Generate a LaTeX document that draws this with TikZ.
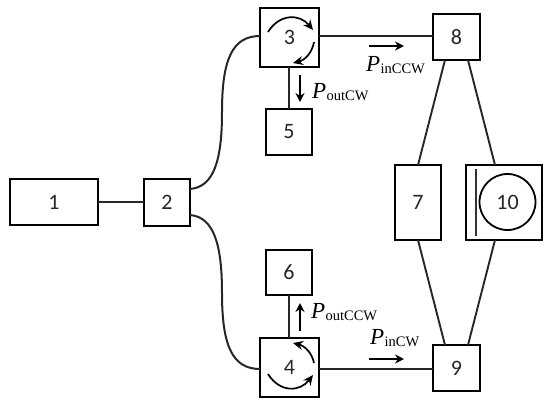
\documentclass[tikz,border=0pt]{standalone}
\usepackage{fontspec}
\setmainfont{Carlito}
\newfontfamily\timesit[Scale=1]{Liberation Serif}
\usetikzlibrary{arrows.meta,calc}
\tikzset{
  box/.style={draw=black,line width=2.2pt,fill=white,inner sep=0pt,outer sep=0pt,font=\fontsize{22}{22}\selectfont,text=black!85},
  wire/.style={line width=2.2pt,draw=black!85},
  swirl/.style={line width=1.7pt,-{Stealth[length=10pt,width=9pt]}},
  flow/.style={line width=1.8pt,-{Stealth[length=9pt,width=9pt]}},
  plabel/.style={inner sep=0pt,outer sep=0pt,anchor=base west}
}
\newcommand{\powlab}[1]{{\timesit\fontsize{23}{23}\selectfont\itshape P\kern0.5pt\raisebox{-2.5pt}{\fontsize{14.5}{14.5}\selectfont\upshape #1}}}
\begin{document}
\begin{tikzpicture}[x=1pt,y=-1pt]
\useasboundingbox (0,0) rectangle (550,408);
\node[box,minimum width=88pt,minimum height=46pt] (n1) at (54,202) {1};
\node[box,minimum width=46pt,minimum height=47pt] (n2) at (167,202.5) {2};
\node[box,minimum width=59pt,minimum height=59pt] (n3) at (289.5,37.5) {3};
\node[box,minimum width=46pt,minimum height=46pt] (n5) at (289,132) {5};
\node[box,minimum width=47pt,minimum height=46pt] (n8) at (456.5,37) {8};
\node[box,minimum width=46pt,minimum height=75pt] (n7) at (418,202.5) {7};
\node[box,minimum width=76pt,minimum height=75pt] (nt) at (504,202.5) {};
\node[draw=black,line width=1.8pt,circle,minimum size=56pt,inner sep=0pt,outer sep=0pt,font=\fontsize{22}{22}\selectfont,text=black!85] (n10) at (507.5,202) {10};
\node[box,minimum width=46pt,minimum height=45pt] (n6) at (289,272.5) {6};
\node[box,minimum width=59pt,minimum height=59pt] (n4) at (289.5,367.5) {4};
\node[box,minimum width=47pt,minimum height=46pt] (n9) at (456.5,368) {9};

\draw[wire] (n1.east) -- (n2.west |- n1.east);
\draw[wire] (n3.south -| n5) -- (n5);
\draw[wire] (n6) -- (n4.north -| n6);
\draw[wire] (n3.east |- 0,36) -- (n8.west |- 0,36);
\draw[wire] (n4.east |- 0,369) -- (n9.west |- 0,369);
\draw[wire,line width=2pt] ([yshift=13.5]n2.east) .. controls (214,187) and (222,160) .. (222,112) .. controls (222,60) and (232,36) .. (n3.west |- 0,36);
\draw[wire,line width=2pt] ([yshift=-12.5]n2.east) .. controls (214,217) and (222,245) .. (222,293) .. controls (222,345) and (232,369) .. (n4.west |- 0,369);
\draw[wire,line width=1.9pt] ([xshift=12]n8.south west) -- ([xshift=23]n7.north west);
\draw[wire,line width=1.9pt] ([xshift=-12]n8.south east) -- ([xshift=29]nt.north west);
\draw[wire,line width=1.9pt] ([xshift=23]n7.south west) -- ([xshift=12]n9.north west);
\draw[wire,line width=1.9pt] ([xshift=29]nt.south west) -- ([xshift=-12]n9.north east);

\draw[line width=2.2pt,draw=black!80] ([xshift=10,yshift=-4]nt.north west) -- ([xshift=10,yshift=4]nt.south west);

% circulator arrows
\draw[swirl] (268,32) .. controls (280,13) and (300,14) .. (313,30);
\draw[swirl] (314,42) .. controls (312,53) and (305,60) .. (293,63);
\draw[swirl] (268,374) .. controls (280,393) and (300,392) .. (313,375);
\draw[swirl] (314,363) .. controls (312,353) and (305,346) .. (293,343);

% power flow arrows and labels
\coordinate (a1s) at (369,46); \coordinate (a1e) at (404,46);
\coordinate (a2s) at (369,359); \coordinate (a2e) at (404,359);
\coordinate (a3s) at (300,75); \coordinate (a3e) at (300,102);
\coordinate (a4s) at (300,331); \coordinate (a4e) at (300,303);
\draw[flow] (a1s) -- (a1e);
\draw[flow] (a2s) -- (a2e);
\draw[flow] (a3s) -- (a3e);
\draw[flow] (a4s) -- (a4e);
\node[plabel] (l1) at (366,71) {\powlab{inCCW}};
\node[plabel] (l2) at (370,344) {\powlab{inCW}};
\node[plabel] (l3) at (312,98) {\powlab{outCW}};
\node[plabel] (l4) at (311,318) {\powlab{outCCW}};
\end{tikzpicture}
\end{document}
